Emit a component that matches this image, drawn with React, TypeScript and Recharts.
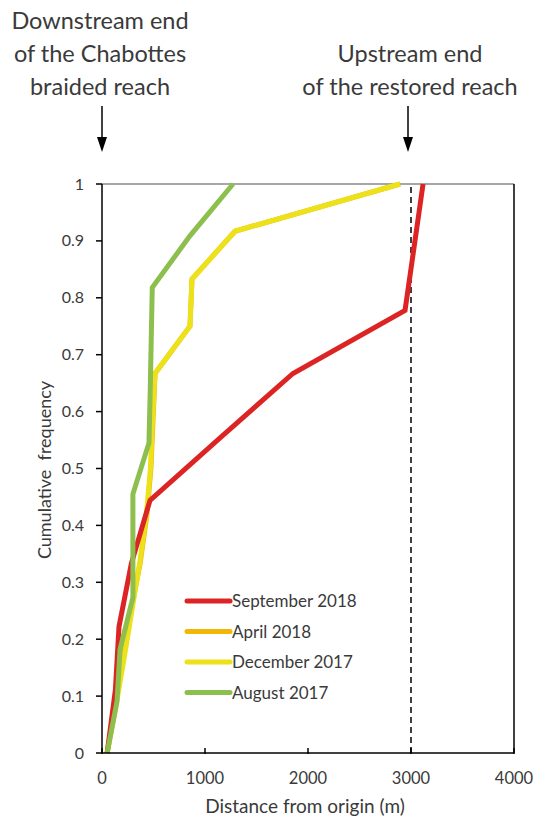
import React from "react";
import { LineChart, Line, XAxis, YAxis, ReferenceLine } from "recharts";

// distances (m) and cumulative frequency for each survey
const sepDist = [50, 130, 165, 285, 466, 1160, 1854, 2942, 3030, 3117];
const sepFreq = [0, 0.111, 0.222, 0.333, 0.444, 0.556, 0.667, 0.778, 0.889, 1];

const aprDist = [50, 130, 190, 280, 370, 435, 475, 495, 515, 854, 874, 1291, 2893];
const aprFreq = [0, 0.083, 0.167, 0.25, 0.333, 0.417, 0.5, 0.583, 0.667, 0.75, 0.833, 0.917, 1];

const decDist = [50, 136, 215, 290, 365, 430, 470, 490, 515, 854, 874, 1291, 2893];
const decFreq = [0, 0.083, 0.167, 0.25, 0.333, 0.417, 0.5, 0.583, 0.667, 0.75, 0.833, 0.917, 1];

const augDist = [50, 146, 175, 300, 300, 300, 456, 468, 478, 488, 854, 1272];
const augFreq = [0, 0.091, 0.182, 0.273, 0.364, 0.455, 0.545, 0.636, 0.727, 0.818, 0.909, 1];

const xTicks = [0, 1000, 2000, 3000, 4000];
const yTicks = [0, 0.1, 0.2, 0.3, 0.4, 0.5, 0.6, 0.7, 0.8, 0.9, 1];

const toRows = (d: number[], f: number[]) => d.map((v, i) => ({ dist: v, freq: f[i] }));

const series = [
  { name: "September 2018", color: "#dc2424", rows: toRows(sepDist, sepFreq) },
  { name: "April 2018", color: "#f2b705", rows: toRows(aprDist, aprFreq) },
  { name: "December 2017", color: "#ede11b", rows: toRows(decDist, decFreq) },
  { name: "August 2017", color: "#8dbf4e", rows: toRows(augDist, augFreq) },
];
// drawing order: later lines sit on top
const drawOrder = [1, 2, 0, 3];

const FONT = "Lato, 'Open Sans', sans-serif";
const TEXT = "#3a3a3a";

function XTick({ x, y, payload }: any) {
  return (
    <g>
      <line x1={x} x2={x} y1={y - 5} y2={y + 1} stroke="#000" strokeWidth={1.5} />
      <text x={x} y={y + 31} textAnchor="middle" fontSize={16.5} fill={TEXT} fontFamily={FONT}>
        {payload.value}
      </text>
    </g>
  );
}

function YTick({ x, y, payload }: any) {
  return (
    <g>
      <line x1={x - 6} x2={x} y1={y} y2={y} stroke="#000" strokeWidth={1.5} />
      <text x={x - 18} y={y + 5.5} textAnchor="end" fontSize={16} fill={TEXT} fontFamily={FONT}>
        {payload.value}
      </text>
    </g>
  );
}

function Arrow({ x }: { x: number }) {
  return (
    <g>
      <line x1={x} x2={x} y1={106} y2={140} stroke="#000" strokeWidth={1.5} />
      <polygon points={`${x - 5},137 ${x + 5},137 ${x},152`} fill="#000" />
    </g>
  );
}

export default function App() {
  return (
    <div style={{ position: "absolute", left: 0, top: 0, width: 535, height: 818, background: "#fff" }}>
      <LineChart
        width={535}
        height={818}
        margin={{ top: 184, right: 21, bottom: 25, left: 42 }}
      >
        <XAxis
          type="number"
          dataKey="dist"
          domain={[0, 4000]}
          ticks={xTicks}
          tick={<XTick />}
          tickLine={false}
          tickSize={0}
          tickMargin={0}
          height={40}
          stroke="#000"
          strokeWidth={1.5}
          allowDuplicatedCategory={false}
        />
        <YAxis
          type="number"
          dataKey="freq"
          domain={[0, 1]}
          ticks={yTicks}
          tick={<YTick />}
          tickLine={false}
          tickSize={0}
          tickMargin={0}
          width={60}
          stroke="#000"
          strokeWidth={1.5}
        />
        <ReferenceLine y={1} stroke="#888" strokeWidth={1.5} />
        <ReferenceLine x={4000} stroke="#000" strokeWidth={1.5} />
        <ReferenceLine x={3000} stroke="#000" strokeWidth={1.5} strokeDasharray="6 4" />
        {drawOrder.map((i) => (
          <Line
            key={series[i].name}
            data={series[i].rows}
            dataKey="freq"
            name={series[i].name}
            stroke={series[i].color}
            strokeWidth={5}
            dot={false}
            activeDot={false}
            strokeLinejoin="miter"
            isAnimationActive={false}
          />
        ))}
      </LineChart>
      <svg
        width={535}
        height={818}
        style={{ position: "absolute", left: 0, top: 0, pointerEvents: "none" }}
      >
        <g fontFamily={FONT} fill={TEXT} textAnchor="middle">
          <text x={100} y={29} fontSize={23.5}>Downstream end</text>
          <text x={100} y={62} fontSize={23.5}>of the Chabottes</text>
          <text x={100} y={95} fontSize={23.5}>braided reach</text>
          <text x={410} y={62} fontSize={23.5}>Upstream end</text>
          <text x={410} y={95} fontSize={23.5}>of the restored reach</text>
          <text x={305} y={813} fontSize={19}>Distance from origin (m)</text>
          <text
            x={0}
            y={0}
            fontSize={18}
            style={{ whiteSpace: "pre" }}
            transform="translate(51,470) rotate(-90)"
          >
            {"Cumulative  frequency"}
          </text>
        </g>
        {/* legend inside the plot area */}
        <g fontFamily={FONT} fontSize={17} fill={TEXT}>
          {series.map((s, i) => (
            <g key={s.name} transform={`translate(185,${601 + i * 30.5})`}>
              <line x1={2} x2={45} y1={0} y2={0} stroke={s.color} strokeWidth={5} strokeLinecap="round" />
              <text x={47} y={6}>{s.name}</text>
            </g>
          ))}
        </g>
        <Arrow x={102} />
        <Arrow x={408} />
      </svg>
    </div>
  );
}
